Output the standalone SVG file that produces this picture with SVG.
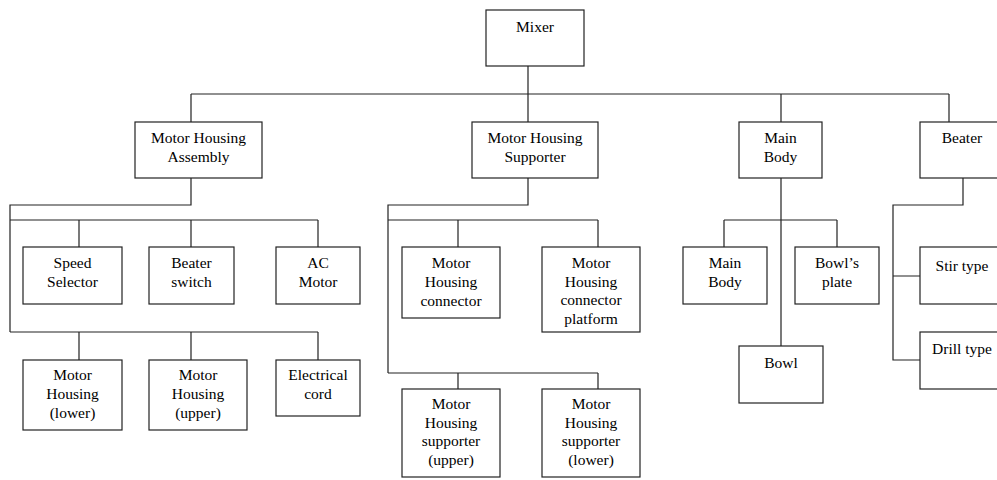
<svg xmlns="http://www.w3.org/2000/svg" width="997" height="480" viewBox="0 0 997 480">
<style>
.box{fill:#fff;stroke:#222;stroke-width:1.2}
.conn{fill:none;stroke:#222;stroke-width:1.2}
text{font-family:"Liberation Serif","Times New Roman",serif;font-size:15.5px;fill:#000;text-anchor:middle}
</style>
<rect width="997" height="480" fill="#fff"/>
<g id="connectors">
<path class="conn" d="M528,66 V122 M191,94 H949 M191,94 V122 M781,94 V122 M949,94 V122"/>
<path class="conn" d="M191,178 V205 H10 V332 M10,220 H318 M79,220 V247 M191,220 V247 M318,220 V247 M10,332 H318 M79,332 V360 M191,332 V360 M318,332 V360"/>
<path class="conn" d="M528,178 V205 H388 V373 M388,220 H598 M458,220 V247 M598,220 V247 M388,373 H598 M458,373 V389 M598,373 V389"/>
<path class="conn" d="M781,178 V346 M724,220 H837 M724,220 V247 M837,220 V247"/>
<path class="conn" d="M963,178 V205 H893 V360 H920 M893,276 H920"/>
</g>
<g id="mixer"><rect class="box" x="486" y="10" width="98" height="56"/><text x="535" y="32">Mixer</text></g>
<g id="motor-housing-assembly"><rect class="box" x="135" y="122" width="127" height="56"/><text x="198.5" y="143">Motor Housing</text><text x="198.5" y="162">Assembly</text></g>
<g id="motor-housing-supporter"><rect class="box" x="472" y="122" width="126" height="56"/><text x="535" y="143">Motor Housing</text><text x="535" y="162">Supporter</text></g>
<g id="main-body"><rect class="box" x="739" y="122" width="83" height="56"/><text x="780.5" y="143">Main</text><text x="780.5" y="162">Body</text></g>
<g id="beater"><rect class="box" x="920" y="122" width="84" height="56"/><text x="962" y="143">Beater</text></g>
<g id="speed-selector"><rect class="box" x="23" y="247" width="99" height="57"/><text x="72.5" y="268">Speed</text><text x="72.5" y="287">Selector</text></g>
<g id="beater-switch"><rect class="box" x="149" y="247" width="85" height="57"/><text x="191.5" y="268">Beater</text><text x="191.5" y="287">switch</text></g>
<g id="ac-motor"><rect class="box" x="276" y="247" width="84" height="57"/><text x="318" y="268">AC</text><text x="318" y="287">Motor</text></g>
<g id="motor-housing-lower"><rect class="box" x="23" y="360" width="99" height="70"/><text x="72.5" y="380">Motor</text><text x="72.5" y="399">Housing</text><text x="72.5" y="418">(lower)</text></g>
<g id="motor-housing-upper"><rect class="box" x="149" y="360" width="98" height="70"/><text x="198" y="380">Motor</text><text x="198" y="399">Housing</text><text x="198" y="418">(upper)</text></g>
<g id="electrical-cord"><rect class="box" x="276" y="360" width="84" height="56"/><text x="318" y="380">Electrical</text><text x="318" y="399">cord</text></g>
<g id="mh-connector"><rect class="box" x="402" y="247" width="98" height="71"/><text x="451" y="268">Motor</text><text x="451" y="287">Housing</text><text x="451" y="305.5">connector</text></g>
<g id="mh-connector-platform"><rect class="box" x="542" y="247" width="98" height="85"/><text x="591" y="268">Motor</text><text x="591" y="286.5">Housing</text><text x="591" y="305">connector</text><text x="591" y="323.5">platform</text></g>
<g id="mh-supporter-upper"><rect class="box" x="402" y="389" width="98" height="88"/><text x="451" y="409">Motor</text><text x="451" y="427.5">Housing</text><text x="451" y="446">supporter</text><text x="451" y="464.5">(upper)</text></g>
<g id="mh-supporter-lower"><rect class="box" x="542" y="389" width="98" height="88"/><text x="591" y="409">Motor</text><text x="591" y="427.5">Housing</text><text x="591" y="446">supporter</text><text x="591" y="464.5">(lower)</text></g>
<g id="main-body-part"><rect class="box" x="683" y="247" width="84" height="57"/><text x="725" y="268">Main</text><text x="725" y="287">Body</text></g>
<g id="bowls-plate"><rect class="box" x="795" y="247" width="84" height="57"/><text x="837" y="268">Bowl’s</text><text x="837" y="287">plate</text></g>
<g id="bowl"><rect class="box" x="739" y="346" width="84" height="57"/><text x="781" y="368">Bowl</text></g>
<g id="stir-type"><rect class="box" x="920" y="247" width="84" height="57"/><text x="962" y="270.5">Stir type</text></g>
<g id="drill-type"><rect class="box" x="920" y="332" width="84" height="57"/><text x="962" y="354">Drill type</text></g>
</svg>
